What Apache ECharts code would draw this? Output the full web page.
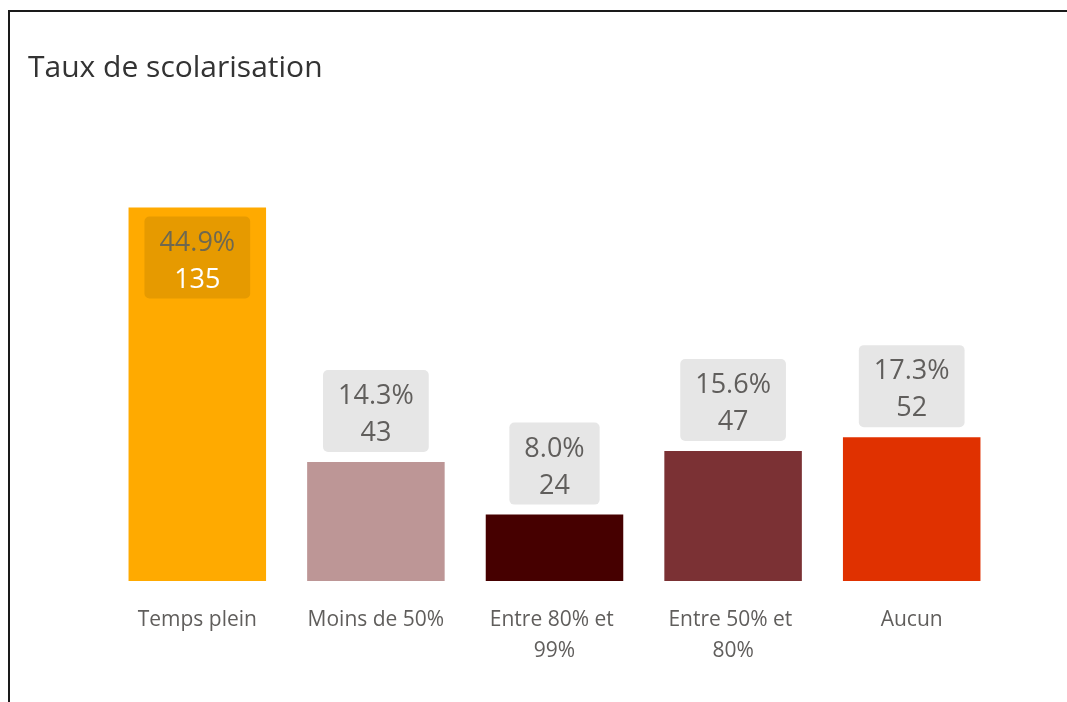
<!doctype html>
<html>
<head>
    <meta charset="UTF-8">
    <title>Taux de scolarisation</title>
    <script src="https://cdn.jsdelivr.net/npm/echarts@6/dist/echarts.min.js"></script>
    <style>
        html, body { margin: 0; padding: 0; background: #fff; }
        #frame {
            position: absolute; left: 8px; top: 10px; right: -5px; bottom: -5px;
            border-left: 2px solid #1a1a1a; border-top: 2px solid #1a1a1a;
        }
        #main { position: absolute; left: 0; top: 0; width: 1067px; height: 702px; }
    </style>
</head>
<body style="overflow:hidden">
<div id="frame"></div>
<div id="main"></div>
<script>
    // catégories et effectifs
    var categories = ['Temps plein', 'Moins de 50%', 'Entre 80% et 99%', 'Entre 50% et 80%', 'Aucun'];
    var counts = [135, 43, 24, 47, 52];
    var barColors = ['#FFAA00', '#BD9696', '#460000', '#7B3134', '#E03100'];

    var total = counts.reduce(function (a, b) { return a + b; }, 0);

    var labelFont = { fontSize: 27, lineHeight: 37, fontFamily: 'Open Sans' };

    var seriesData = counts.map(function (v, i) {
        var item = { value: v, itemStyle: { color: barColors[i] } };
        if (i === 0) {
            // la barre est assez haute : étiquette dedans
            item.label = {
                position: 'insideTop',
                distance: 9,
                backgroundColor: '#E69A00',
                rich: {
                    p: Object.assign({ color: '#6E6850' }, labelFont),
                    v: Object.assign({ color: '#ffffff' }, labelFont)
                }
            };
        }
        return item;
    });

    var myChart = echarts.init(document.getElementById('main'));
    var option = {
        animation: false,
        title: {
            text: 'Taux de scolarisation',
            left: 23,
            top: 48,
            textStyle: { color: '#333333', fontSize: 30, fontWeight: 'normal', fontFamily: 'Open Sans' }
        },
        grid: { left: 108, right: 66, top: 166, bottom: 121 },
        xAxis: {
            type: 'category',
            data: categories,
            axisLine: { show: false },
            axisTick: { show: false },
            axisLabel: {
                color: '#605E5C',
                fontSize: 21,
                lineHeight: 31,
                fontFamily: 'Open Sans',
                margin: 24,
                width: 150,
                overflow: 'break',
                interval: 0
            }
        },
        yAxis: {
            type: 'value',
            min: 0,
            max: 150,
            show: false,
            splitLine: { show: false }
        },
        series: [{
            type: 'bar',
            data: seriesData,
            barCategoryGap: '23%',
            label: {
                show: true,
                position: 'top',
                distance: 10,
                backgroundColor: '#E6E6E6',
                borderRadius: 5,
                padding: [8, 15, 0, 15],
                align: 'center',
                formatter: function (p) {
                    var pct = (p.value / total * 100).toFixed(1);
                    return '{p|' + pct + '%}\n{v|' + p.value + '}';
                },
                rich: {
                    p: Object.assign({ color: '#605E5C' }, labelFont),
                    v: Object.assign({ color: '#605E5C' }, labelFont)
                }
            }
        }]
    };
    myChart.setOption(option);
</script>
</body>
</html>
